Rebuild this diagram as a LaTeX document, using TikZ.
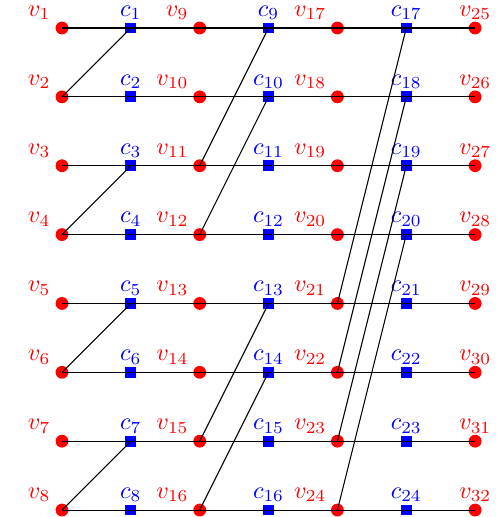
\documentclass[tikz,border=0pt]{standalone}
\usetikzlibrary{calc}
\begin{document}
\begin{tikzpicture}[x=1cm,y=-1cm,
  vnode/.style={circle,fill=red,inner sep=0pt,minimum size=5.3pt},
  cnode/.style={rectangle,fill=blue,inner sep=0pt,minimum size=4.5pt},
  vlabL/.style={text=red,inner sep=0pt,anchor=south east},
  vlabA/.style={text=red,inner sep=0pt,anchor=south},
  clab/.style={text=blue,inner sep=0pt,anchor=south},
  edge/.style={draw=black,line width=0.45pt}]
\useasboundingbox (-0.900,-0.407) rectangle (6.332,7.101);
% nodes
\foreach \r in {1,...,8}{
  \pgfmathtruncatemacro{\y}{\r-1}
  \pgfmathtruncatemacro{\a}{\r}
  \pgfmathtruncatemacro{\b}{\r+8}
  \pgfmathtruncatemacro{\c}{\r+16}
  \pgfmathtruncatemacro{\d}{\r+24}
  \node[vnode] (v\a) at (0,\y) {};
  \node[cnode] (c\a) at (1,\y) {};
  \node[vnode] (v\b) at (2,\y) {};
  \node[cnode] (c\b) at (3,\y) {};
  \node[vnode] (v\c) at (4,\y) {};
  \node[cnode] (c\c) at (5,\y) {};
  \node[vnode] (v\d) at (6,\y) {};
  \node[vlabL] (lv\a) at ($(v\a)+(-0.16,-0.11)$) {$v_{\a}$};
  \node[vlabL] (lv\b) at ($(v\b)+(-0.155,-0.11)$) {$v_{\b}$};
  \node[vlabL] (lv\c) at ($(v\c)+(-0.155,-0.11)$) {$v_{\c}$};
  \node[vlabA] (lv\d) at ($(v\d)+(0,-0.11)$) {$v_{\d}$};
  \node[clab] (lc\a) at ($(c\a)+(0,-0.11)$) {$c_{\a}$};
  \node[clab] (lc\b) at ($(c\b)+(0,-0.11)$) {$c_{\b}$};
  \node[clab] (lc\c) at ($(c\c)+(0,-0.11)$) {$c_{\c}$};
}
% horizontal edges
\foreach \r in {1,...,8}{
  \pgfmathtruncatemacro{\a}{\r}
  \pgfmathtruncatemacro{\b}{\r+8}
  \pgfmathtruncatemacro{\c}{\r+16}
  \pgfmathtruncatemacro{\d}{\r+24}
  \draw[edge] (v\a.center) -- (c\a.center) -- (v\b.center) -- (c\b.center) -- (v\c.center) -- (c\c.center) -- (v\d.center);
}
% diagonal edges
\draw[edge] (v2.center) -- (c1.center);
\draw[edge] (v4.center) -- (c3.center);
\draw[edge] (v6.center) -- (c5.center);
\draw[edge] (v8.center) -- (c7.center);
\draw[edge] (v11.center) -- (c9.center);
\draw[edge] (v12.center) -- (c10.center);
\draw[edge] (v15.center) -- (c13.center);
\draw[edge] (v16.center) -- (c14.center);
\draw[edge] (v21.center) -- (c17.center);
\draw[edge] (v22.center) -- (c18.center);
\draw[edge] (v23.center) -- (c19.center);
\draw[edge] (v24.center) -- (c20.center);
\end{tikzpicture}
\end{document}
